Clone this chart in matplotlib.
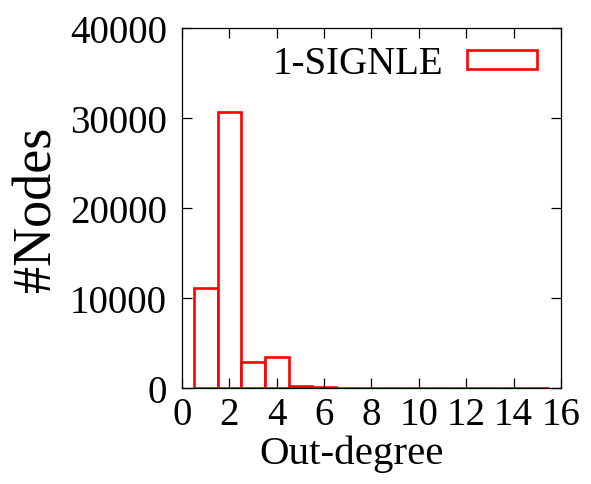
import numpy as np
import matplotlib.pyplot as plt

plt.rcParams['font.family'] = ['Liberation Serif', 'DejaVu Serif']

# out-degree histogram
degree = [1, 2, 3, 4, 5, 6, 7, 8, 9, 10, 11, 12, 13, 14, 15]
nodes = [11100, 30650, 2850, 3480, 260, 100, 40, 20, 10, 5, 3, 2, 1, 1, 1]
series_name = '1-SIGNLE'

fig = plt.figure(figsize=(5.91, 4.85), dpi=100)
ax = fig.add_axes([0.308, 0.198, 0.641, 0.742])

ax.bar(degree, nodes, width=1.0, facecolor='white', edgecolor='#ff0000',
       linewidth=1.9, label=series_name)

ax.set_xlim(0, 16)
ax.set_ylim(0, 40000)
ax.set_xticks(np.arange(0, 17, 2))
ax.set_yticks(np.arange(0, 40001, 10000))

ax.tick_params(direction='in', length=7, width=0.9, top=True, right=True,
               labelsize=28)
ax.tick_params(axis='y', pad=11)
ax.tick_params(axis='x', pad=6)
for s in ax.spines.values():
  s.set_linewidth(0.9)

ax.set_xlabel('Out-degree', fontsize=29.5, labelpad=0)
ax.xaxis.set_label_coords(0.447, -0.13)
ax.set_ylabel('#Nodes', fontsize=39)
ax.yaxis.set_label_coords(-0.315, 0.5)

ax.legend(loc='upper right', frameon=False, markerfirst=False, fontsize=28,
          handlelength=1.8, handleheight=0.38, handletextpad=0.6,
          borderaxespad=0.0, bbox_to_anchor=(0.978, 0.996))

fig.savefig('out.png', dpi=100)
